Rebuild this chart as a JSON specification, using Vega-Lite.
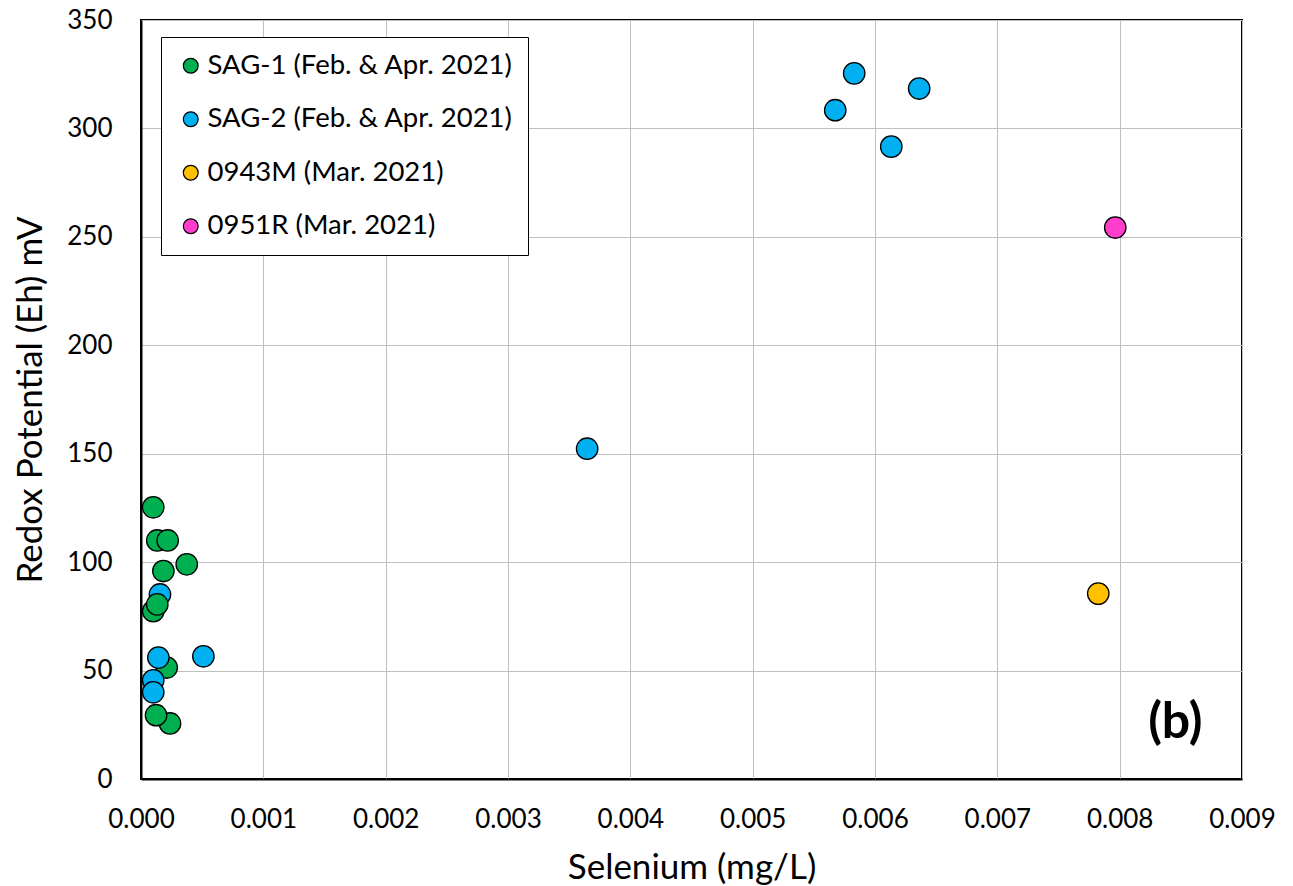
{
  "$schema": "https://vega.github.io/schema/vega-lite/v6.json",
  "width": 1101,
  "height": 759,
  "autosize": "none",
  "padding": {"left": 141, "top": 20, "right": 51, "bottom": 107},
  "background": "white",
  "config": {
    "font": "Lato",
    "view": {"stroke": "black", "strokeWidth": 2},
    "axis": {
      "domainColor": "black", "domainWidth": 2,
      "gridColor": "#c0c0c0", "gridWidth": 1,
      "ticks": false,
      "labelColor": "black", "labelFontSize": 26, "labelFont": "Lato",
      "titleColor": "black", "titleFontSize": 35, "titleFont": "Lato", "titleFontWeight": "normal"
    }
  },
  "data": {
    "values": [
      {"se": 0.0001, "eh": 125.3, "site": "SAG-1 (Feb. & Apr. 2021)"},
      {"se": 0.000133, "eh": 110, "site": "SAG-1 (Feb. & Apr. 2021)"},
      {"se": 0.000218, "eh": 110, "site": "SAG-1 (Feb. & Apr. 2021)"},
      {"se": 0.000374, "eh": 99, "site": "SAG-1 (Feb. & Apr. 2021)"},
      {"se": 0.000183, "eh": 95.9, "site": "SAG-1 (Feb. & Apr. 2021)"},
      {"se": 0.000155, "eh": 85.1, "site": "SAG-2 (Feb. & Apr. 2021)"},
      {"se": 0.0001, "eh": 77.4, "site": "SAG-1 (Feb. & Apr. 2021)"},
      {"se": 0.000133, "eh": 80.5, "site": "SAG-1 (Feb. & Apr. 2021)"},
      {"se": 0.00021, "eh": 51.4, "site": "SAG-1 (Feb. & Apr. 2021)"},
      {"se": 0.000142, "eh": 56, "site": "SAG-2 (Feb. & Apr. 2021)"},
      {"se": 0.00051, "eh": 56.6, "site": "SAG-2 (Feb. & Apr. 2021)"},
      {"se": 0.0001, "eh": 45.5, "site": "SAG-2 (Feb. & Apr. 2021)"},
      {"se": 0.0001, "eh": 40, "site": "SAG-2 (Feb. & Apr. 2021)"},
      {"se": 0.000237, "eh": 25.6, "site": "SAG-1 (Feb. & Apr. 2021)"},
      {"se": 0.000123, "eh": 29.4, "site": "SAG-1 (Feb. & Apr. 2021)"},
      {"se": 0.003647, "eh": 152.3, "site": "SAG-2 (Feb. & Apr. 2021)"},
      {"se": 0.005675, "eh": 308.4, "site": "SAG-2 (Feb. & Apr. 2021)"},
      {"se": 0.00583, "eh": 325.4, "site": "SAG-2 (Feb. & Apr. 2021)"},
      {"se": 0.006133, "eh": 291.6, "site": "SAG-2 (Feb. & Apr. 2021)"},
      {"se": 0.006361, "eh": 318.4, "site": "SAG-2 (Feb. & Apr. 2021)"},
      {"se": 0.007825, "eh": 85.5, "site": "0943M (Mar. 2021)"},
      {"se": 0.007964, "eh": 254.3, "site": "0951R (Mar. 2021)"}
    ]
  },
  "layer": [
    {
      "mark": {"type": "point", "shape": "circle", "filled": true, "size": 460, "stroke": "black", "strokeWidth": 1.3, "opacity": 1},
      "encoding": {
        "x": {"field": "se", "type": "quantitative", "title": "Selenium (mg/L)",
              "scale": {"domain": [0, 0.009], "nice": false},
              "axis": {"values": [0, 0.001, 0.002, 0.003, 0.004, 0.005, 0.006, 0.007, 0.008, 0.009], "format": ".3f", "labelPadding": 27, "titlePadding": 18, "labelFlush": false}},
        "y": {"field": "eh", "type": "quantitative", "title": "Redox Potential (Eh) mV",
              "scale": {"domain": [0, 350], "nice": false},
              "axis": {"values": [0, 50, 100, 150, 200, 250, 300, 350], "labelPadding": 29, "titlePadding": 18, "labelFlush": false}},
        "fill": {"field": "site", "type": "nominal",
                 "scale": {"domain": ["SAG-1 (Feb. & Apr. 2021)", "SAG-2 (Feb. & Apr. 2021)", "0943M (Mar. 2021)", "0951R (Mar. 2021)"],
                           "range": ["#00B050", "#00B0F0", "#FFC000", "#FF3DCC"]},
                 "legend": {"title": null, "orient": "none", "legendX": 20, "legendY": 17,
                            "strokeColor": "black", "fillColor": "white", "padding": 15,
                            "labelFontSize": 27.5, "labelColor": "black", "labelFont": "Lato", "labelLimit": 500,
                            "symbolSize": 220, "symbolStrokeColor": "black", "symbolStrokeWidth": 1.2,
                            "symbolOffset": 1, "rowPadding": 24.5, "labelOffset": 3, "symbolType": "circle"}}
      }
    },
    {
      "data": {"values": [{"se": 0.008455, "eh": 26, "label": "(b)"}]},
      "mark": {"type": "text", "fontSize": 50, "fontWeight": "bold", "font": "Lato", "color": "black", "baseline": "middle", "align": "center"},
      "encoding": {
        "x": {"field": "se", "type": "quantitative"},
        "y": {"field": "eh", "type": "quantitative"},
        "text": {"field": "label"}
      }
    }
  ]
}
